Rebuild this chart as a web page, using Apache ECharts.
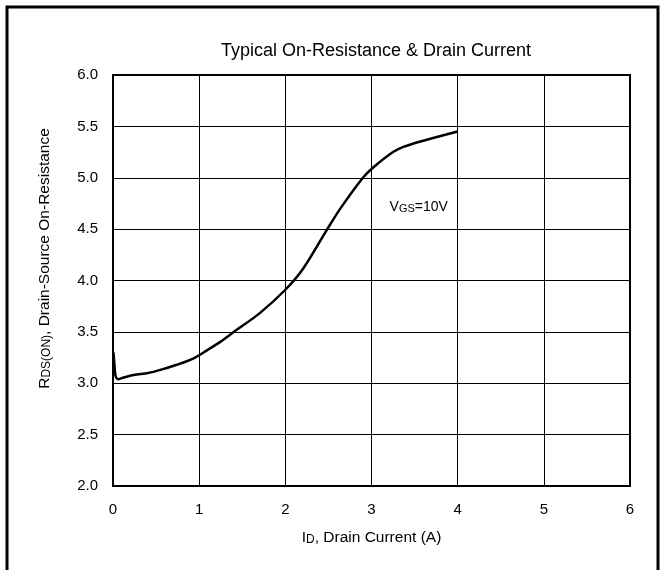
<!DOCTYPE html>
<html>
<head>
<meta charset="utf-8">
<script src="https://cdn.jsdelivr.net/npm/echarts@6/dist/echarts.min.js"></script>
<style>
  html, body { margin: 0; padding: 0; background: #fff; }
  #chart { width: 666px; height: 570px; }
</style>
</head>
<body>
<div id="chart"></div>
<script>
// Drain current (A) and on-resistance (VGS = 10V)
const drainCurrent = [0.005, 0.015, 0.03, 0.06, 0.1, 0.24, 0.41, 0.55, 0.74, 0.93, 1.09, 1.24, 1.42, 1.7, 2.0, 2.21, 2.48, 2.63, 2.9, 3.02, 3.25, 3.37, 3.6, 4.0]
const onResistance = [3.3, 3.2, 3.07, 3.04, 3.05, 3.08, 3.1, 3.13, 3.18, 3.24, 3.32, 3.4, 3.51, 3.68, 3.91, 4.12, 4.49, 4.69, 5.0, 5.1, 5.25, 5.3, 5.36, 5.45]
const xTicks = [0, 1, 2, 3, 4, 5, 6]
const yTicks = [2.0, 2.5, 3.0, 3.5, 4.0, 4.5, 5.0, 5.5, 6.0]
const labelPos = [3.21, 4.715]

const font = '"Liberation Sans", Arial, sans-serif'
const chart = echarts.init(document.getElementById('chart'))

const subRich = (size) => ({
  big: { fontFamily: font, fontSize: size, color: '#000' },
  small: { fontFamily: font, fontSize: size - 3.5, color: '#000', padding: [3, 0, 0, 0] }
})

const option = {
  backgroundColor: '#fff',
  animation: false,
  title: {
    text: 'Typical On-Resistance & Drain Current',
    left: 371,
    textAlign: 'center',
    top: 37,
    textStyle: { fontFamily: font, fontSize: 18, fontWeight: 'normal', color: '#000' }
  },
  graphic: [
    // outer frame of the figure
    {
      type: 'polyline',
      shape: { points: [[7, 575], [7, 7], [658, 7], [658, 575]] },
      style: { stroke: '#000', lineWidth: 3, fill: null }
    }
  ],
  grid: {
    left: 113,
    top: 75,
    right: 36,
    bottom: 84,
    show: true,
    borderColor: '#000',
    borderWidth: 2,
    backgroundColor: 'transparent'
  },
  xAxis: {
    type: 'value',
    min: xTicks[0],
    max: xTicks[xTicks.length - 1],
    interval: 1,
    axisLine: { show: true, lineStyle: { color: '#000', width: 2 } },
    axisTick: { show: false },
    splitLine: { show: true, lineStyle: { color: '#000', width: 1 } },
    axisLabel: { fontFamily: font, fontSize: 15, color: '#000', margin: 16 },
    name: '{big|I}{small|D}{big|, Drain Current (A)}',
    nameLocation: 'middle',
    nameGap: 44,
    nameTextStyle: { color: '#000', rich: subRich(15.5) }
  },
  yAxis: {
    type: 'value',
    min: yTicks[0],
    max: yTicks[yTicks.length - 1],
    interval: 0.5,
    axisLine: { show: true, lineStyle: { color: '#000', width: 2 } },
    axisTick: { show: false },
    splitLine: { show: true, lineStyle: { color: '#000', width: 1 } },
    axisLabel: {
      fontFamily: font, fontSize: 15, color: '#000', margin: 15,
      formatter: (v) => v.toFixed(1)
    },
    name: '{big|R}{small|DS(ON)}{big|, Drain-Source On-Resistance}',
    nameLocation: 'middle',
    nameGap: 60,
    nameRotate: 90,
    nameTextStyle: { color: '#000', padding: [0, 0, 0, 44], rich: subRich(15.5) }
  },
  series: [
    {
      type: 'line',
      data: drainCurrent.map((x, i) => [x, onResistance[i]]),
      smooth: 0.3,
      symbol: 'none',
      lineStyle: { color: '#000', width: 2.5 },
      markPoint: {
        symbol: 'circle',
        symbolSize: 0,
        data: [{ coord: labelPos }],
        label: {
          show: true,
          position: 'right',
          distance: 0,
          formatter: '{big|V}{small|GS}{big|=10V}',
          rich: {
            big: { fontFamily: font, fontSize: 14, color: '#000' },
            small: { fontFamily: font, fontSize: 11, color: '#000', padding: [3, 0, 0, 0] }
          }
        }
      }
    }
  ]
}

chart.setOption(option)
</script>
</body>
</html>
